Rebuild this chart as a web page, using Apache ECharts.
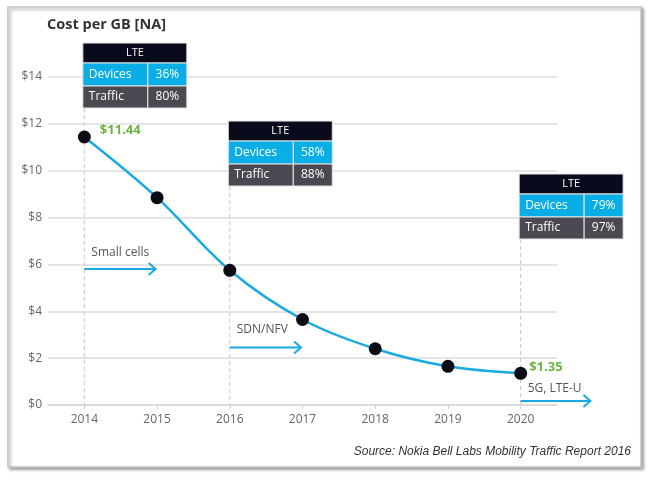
<!DOCTYPE html>
<html>
<head>
<meta charset="utf-8">
<script src="https://cdn.jsdelivr.net/npm/echarts@6/dist/echarts.min.js"></script>
<style>
html,body{margin:0;padding:0;background:#fff;}
#c{width:651px;height:480px;}
</style>
</head>
<body>
<div id="c"></div>
<script>
// ---- data ----
const years = ['2014', '2015', '2016', '2017', '2018', '2019', '2020'];
const costPerGB = [11.44, 8.85, 5.75, 3.65, 2.4, 1.65, 1.35];
const labelledIdx = [0, 6];
const lteYears = ['2014', '2016', '2020'];
const lteDevices = ['36%', '58%', '79%'];
const lteTraffic = ['80%', '88%', '97%'];
const techLabels = ['Small cells', 'SDN/NFV', '5G, LTE-U'];
const techYears = ['2014', '2016', '2020'];

// ---- layout (not data) ----
const tableTopVal = [15.45, 12.12, 9.86];
const arrowVal = [5.8, 2.45, 0.17];
const techLabelDy = [-17, -18, -12];

const FONT = '"Open Sans", "Noto Sans", sans-serif';
const chart = echarts.init(document.getElementById('c'), null, {renderer: 'canvas'});

chart.setOption({
  animation: false,
  backgroundColor: '#fff',
  title: {
    text: 'Cost per GB [NA]',
    left: 42, top: 12,
    textStyle: {fontFamily: FONT, fontSize: 14.5, fontWeight: 'bold', color: '#333'}
  },
  grid: {left: 48, right: 94, top: 77, bottom: 75},
  xAxis: {
    type: 'category',
    data: years,
    boundaryGap: true,
    axisLine: {show: true, lineStyle: {color: '#d9d9d9', width: 1.5}},
    axisTick: {show: true, alignWithLabel: true, length: 4, lineStyle: {color: '#d0d0d0'}},
    axisLabel: {color: '#666', fontFamily: FONT, fontSize: 12, margin: 9},
    splitLine: {show: false}
  },
  yAxis: {
    type: 'value',
    min: 0, max: 14, interval: 2,
    axisLine: {show: false},
    axisTick: {show: false},
    axisLabel: {color: '#666', fontFamily: FONT, fontSize: 12, margin: 6, formatter: v => '$' + v},
    splitLine: {lineStyle: {color: '#dcdcdc', width: 1.5}}
  },
  series: [{
    type: 'line',
    data: costPerGB.map((v, i) => ({
      value: v,
      label: labelledIdx.includes(i) ? {
        show: true,
        position: i === 0 ? [22, -7] : [15, -6],
        formatter: '$' + v.toFixed(2),
        color: '#6cb33f', fontWeight: 'bold', fontSize: 13, fontFamily: FONT
      } : {show: false}
    })),
    smooth: 0.35,
    symbol: 'circle',
    symbolSize: 13,
    lineStyle: {color: '#1aaae2', width: 2.5},
    itemStyle: {color: '#0b0b16'},
    z: 5
  }]
});

function px(cat, val) {
  return chart.convertToPixel({xAxisIndex: 0, yAxisIndex: 0}, [cat, val]);
}

const graphics = [];
// frame
graphics.push({
  type: 'rect', z: -10, silent: true,
  shape: {x: 8, y: 7, width: 633, height: 460},
  style: {fill: '#fff', stroke: '#c4c4c4', lineWidth: 1.5,
    shadowBlur: 3, shadowOffsetX: 2, shadowOffsetY: 2, shadowColor: 'rgba(0,0,0,0.35)'}
});

const zeroY = px(years[0], 0)[1];
const step = px(years[1], 0)[0] - px(years[0], 0)[0];

// LTE tables + dashed lines
lteYears.forEach((yr, i) => {
  const p = px(yr, tableTopVal[i]);
  const x = p[0] - 1.5, y = p[1];
  const w = 104, c1 = 65, h0 = 20, h1 = 23, h2 = 22;
  const bottom = y + h0 + h1 + h2;
  graphics.push({
    type: 'line', z: 1,
    shape: {x1: p[0], y1: bottom, x2: p[0], y2: zeroY},
    style: {stroke: '#cfcfcf', lineWidth: 1.2, lineDash: [4, 3]}
  });
  const cells = [
    {x: x, y: y, w: w, h: h0, fill: '#0a0a1d'},
    {x: x, y: y + h0, w: c1, h: h1, fill: '#0aaee6'},
    {x: x + c1, y: y + h0, w: w - c1, h: h1, fill: '#0aaee6'},
    {x: x, y: y + h0 + h1, w: c1, h: h2, fill: '#4b4851'},
    {x: x + c1, y: y + h0 + h1, w: w - c1, h: h2, fill: '#4b4851'}
  ];
  cells.forEach(c => graphics.push({
    type: 'rect', z: 10,
    shape: {x: c.x, y: c.y, width: c.w, height: c.h},
    style: {fill: c.fill, stroke: '#e6e6e6', lineWidth: 1}
  }));
  const ts = {fill: '#fff', fontFamily: FONT, fontSize: 12, verticalAlign: 'middle'};
  graphics.push({type: 'text', z: 11, x: x + w / 2, y: y + h0 / 2,
    style: Object.assign({}, ts, {text: 'LTE', align: 'center', fontSize: 11})});
  graphics.push({type: 'text', z: 11, x: x + 6, y: y + h0 + h1 / 2,
    style: Object.assign({}, ts, {text: 'Devices', align: 'left'})});
  graphics.push({type: 'text', z: 11, x: x + c1 + (w - c1) / 2, y: y + h0 + h1 / 2,
    style: Object.assign({}, ts, {text: lteDevices[i], align: 'center'})});
  graphics.push({type: 'text', z: 11, x: x + 6, y: y + h0 + h1 + h2 / 2,
    style: Object.assign({}, ts, {text: 'Traffic', align: 'left'})});
  graphics.push({type: 'text', z: 11, x: x + c1 + (w - c1) / 2, y: y + h0 + h1 + h2 / 2,
    style: Object.assign({}, ts, {text: lteTraffic[i], align: 'center'})});
});

// technology arrows
techYears.forEach((yr, i) => {
  const p = px(yr, arrowVal[i]);
  const x1 = p[0], y1 = p[1];
  const x2 = x1 + step * (i === 2 ? 0.96 : 0.98);
  graphics.push({
    type: 'polyline', z: 6,
    shape: {points: [[x1, y1], [x2, y1]]},
    style: {stroke: '#1aaae2', lineWidth: 2, fill: null}
  });
  graphics.push({
    type: 'polyline', z: 6,
    shape: {points: [[x2 - 7, y1 - 6], [x2, y1], [x2 - 7, y1 + 6]]},
    style: {stroke: '#1aaae2', lineWidth: 2, fill: null}
  });
  graphics.push({
    type: 'text', z: 6, x: x1 + 7, y: y1 + techLabelDy[i],
    style: {text: techLabels[i], fill: '#555', fontFamily: FONT, fontSize: 12, align: 'left', verticalAlign: 'middle'}
  });
});

// source
graphics.push({
  type: 'text', z: 6, x: 631, y: 452,
  style: {text: 'Source: Nokia Bell Labs Mobility Traffic Report 2016', fill: '#333',
    fontFamily: '"Liberation Sans", Arial, sans-serif', fontStyle: 'italic', fontSize: 12,
    align: 'right', verticalAlign: 'middle'}
});

chart.setOption({graphic: graphics});
</script>
</body>
</html>
